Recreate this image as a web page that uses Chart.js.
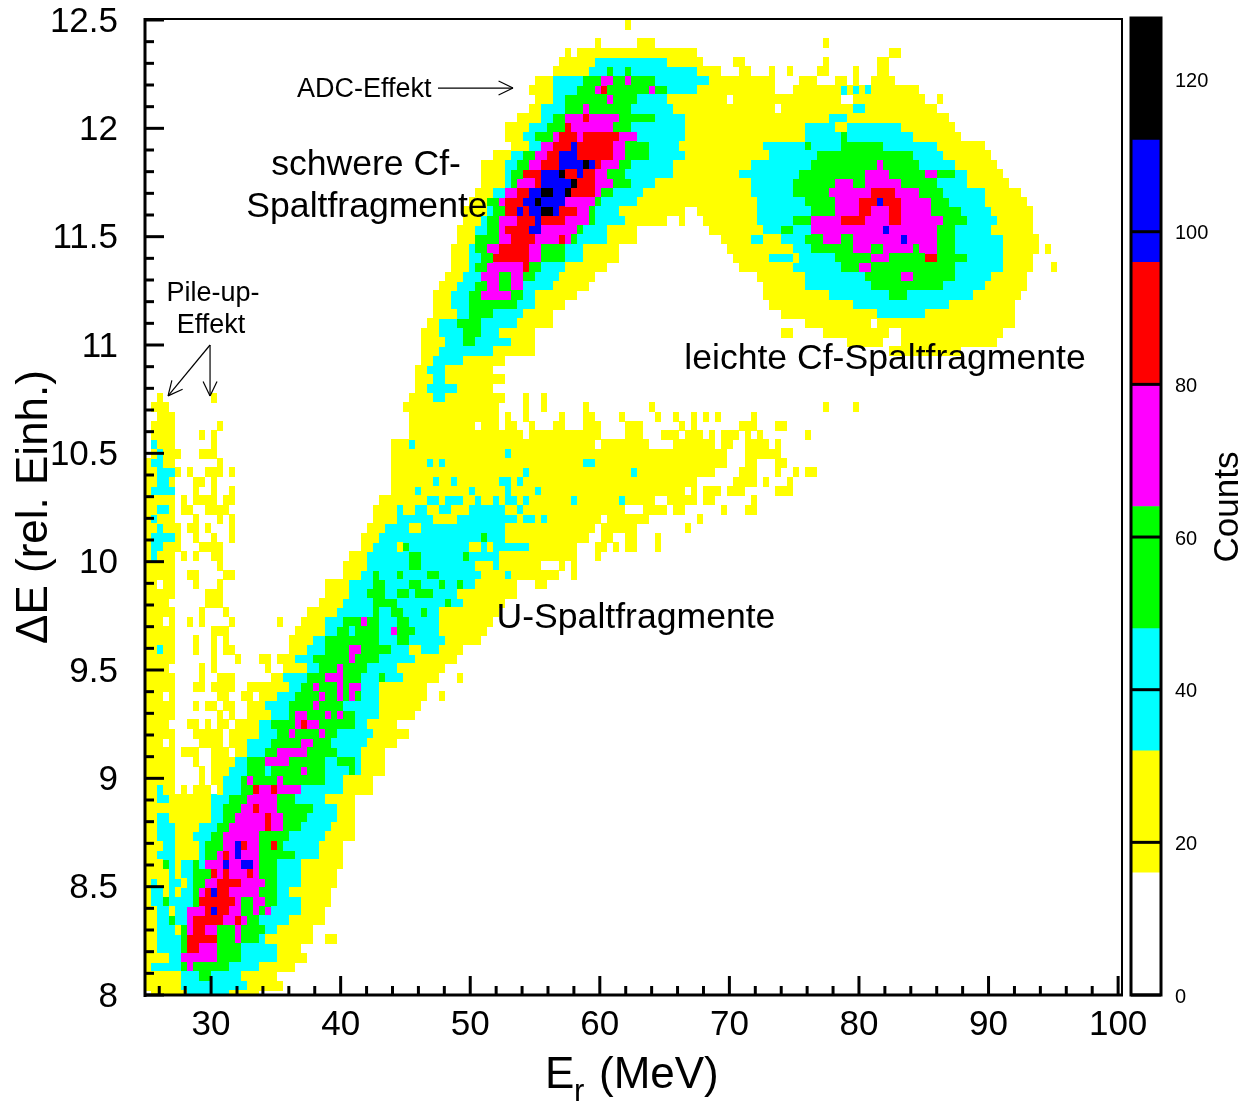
<!DOCTYPE html>
<html><head><meta charset="utf-8">
<style>html,body{margin:0;padding:0;background:#fff;overflow:hidden}
#wrap{position:relative;width:1255px;height:1104px}
canvas{position:absolute;top:0}#main{left:0}#bar{left:1125px}</style>
<script src="https://cdn.jsdelivr.net/npm/chart.js@4"></script>
</head><body><div id="wrap"><canvas id="main" width="1255" height="1104"></canvas><canvas id="bar" width="130" height="1104"></canvas></div>
<script>
// Runs per row, top to bottom: "start level end level end ..." in energy-bin numbers.
const upperRows=["80y81","","75y76_82y85_113y114","70y71_72y92_124y126","69y75c87y93_98y100_113y114_122y124",
"68y74c77g78c80g81c92y96_99y101_104y105_107y108_112y114_118y119_122y124",
"65y68c73g76m78g80m81g85c94y105_109y112_115y117_118y119_121y125",
"64y68c72g75m76r77g84m85g87c92y105_108y116c117y118c119y120c121y129",
"65y68c70g77m78g82c87y97_98y116_118y130_132y133",
"64y66c70g73m74g81c88y105_106y118c120y132",
"62y66c68g70m73r74m79g85c90y114c117y134",
"60y64c67g70r71m78g81c90y110c115y117c126y135",
"60y63c65g68m69r72m73r79m82c90y110c116g117c128y136",
"61y64c66m68r71b72r78m80g84c89y103c110g111c116g123c132y140",
"58y61c63g65m67r69b72r78m80g84c90y104c112g128c133y141",
"56y60c62g64m66r69b73k74b75r76m79g81c88y101c111g122m123g129c135y142",
"56y60c61g63r66b69k70r72b73r75m77g80c88y99c109g120m124g130m132g135c137y143",
"56y60c61g62m65r66b71k72r75m78g81c85y101c108g115m118g120m126g132c137y144",
"55y58c60m62r64b66k68b70k71r75m76g78c83y101c108g114m121r125m129g133c140y146",
"54y57g59m60r63b65k66b70m75g76c82y102c110g115m119r122b123r126m131g134c140y147",
"53y57c58g60r62b63r64b66k68b69r72m74g75c79y90_92y102c111g115m119r121m124r126m131g136c141y148",
"53y56c57g59m62r65b66r70m74g75c80y87_89y90_93y102c108g111m116r120m124r126m133g137c142y148",
"52y55c57g59m60r64b66m72g73c77y82_94y103c106g108c111m123b124m132g135c141y148",
"52y55g59m61r65m69r70m71g72c77y82_96y101c103y106c110g113m116g118m126b127m132g135c143y149",
"51y54c55g57m59r64m66g70c73y79_97y108c111g118m121g123m128g129m132g135c143y149_150y151",
"51y54c56g58r64m66g70c73y79_98y104c108y109c115g121m124g130r132g137c143y148",
"51y54c55g57m63r64g66c70y77_99y108c116g119m121g135c143y148_151y152",
"50y53c56m59g61m63g65c69y75_102y110c120g126m128g135c141y147",
"49y52c55g57m59g61m63c68y74_103y110c121g133c140y147",
"48y51c54g56m61g63c65y72_103y114c124g127c138y146",
"48y51c54g62c65y70_104y118c134y145",
"48y52c54g58c63y68_106y122c130y145",
"47y49c52g56c62y68_110y121_122y145",
"46y49c53g56c59y65_106y108_113y124_126y143",
"46y50c53g55c61y65_117y123_126y142",
"46y49c58y65_124y136",
"46y48c53y60","45y47c50y58","45y48c50y60"];
const middleRows=["45y47c52y58",
"2y3_11y12_44y48c50y60_63y64_66y67",
"1y4_43y59_63y64_66y67_73y74_84y85_113y114_118y119",
"2y5_44y59_60y61_63y64_69y70_73y75_79y80_85y86_88y89_91y92_93y94_95y96_101y102",
"1y5_12y13_44y55_56y59_60y62_64y65_68y70_73y76_80y83_89y90_91y92_99y102_105y107",
"1y5_9y10_11y12_44y63_64y76_80y83_86y89_90y93_94y95_96y99_100y101_102y103_110y111",
"1c2y5_11y12_41y44c45y75_76y84_88y95_96y98_100y104_105y106",
"1y2c3y6_9y12_41y60c61y97_100y106",
"0y1c3y5_12y13_41y47c48y49c50y73c75y97_100y102_105y107",
"0y2c5y6_7y8_10y13_14y15_41y63c64y81c82y95_99y102_105y106_108y109_110y112",
"0y2c4y5_8y10_11y12_41y48c49y51c52y59c61y62c63y92_98y102_103y104_107y108",
"0y1c5_8y9_11y12_14y15_41y45c46y54c55y60c61y65c66y90_91y92_93y96_97y100_105y108",
"0y5_6y7_8y12_13y15_39y47c49y50c53y55c56y58c59y60c62y63c64y71c72y79c80y85_87y92_93y95_101y102",
"0y2c4y5_6y8_10y14_38y42c43y45c47y49c51y54c60y62c63y80_83y87_88y90_96y97_100y102",
"0y1c2y5_8y9_12y13_14y15_38y42c48y52c62y63c65y66c67y76_77y84_92y93",
"0y2c3y6_7y9_10y11_14y15_37y40c44y46c60y75_76y82_90y91",
"0y1c5y6_8y9_11y12_14y15_36y39c56g57c60y74_76y78_80y82_85y86",
"0y1c3y6_9y13_36y38c42y43g44c54y56c57y58c64y72_75y77_78y79_80y82_85y86",
"0y1c2y5_6y7_8y9_11y13_34y37c44g46c53g54c59y72_75y76",
"0y5_12y13_33y37c44g46c55y58c59y66_69y70_71y72",
"0y5_7y9_13y15_33y36c38g39c42g43c47g49c56y60c61y69_71y72",
"0y2_3y5_8y9_12y13_30y34c38g40c44g46c49g50c52g53c55y62_65y67",
"0y5_10y13_30y34c37g40c42g44c45g48c52y62",
"0y4_10y13_29y33c38g42c50g51c53y60",
"0y5_9y10_13y14_27y32c38g39c41g43c46g47c49y59",
"0y3_4y5_7y8_9y10_14y15_22y23_26y30c33g36m37g39c42g44c49y58",
"0y5_11y14_25y30c32g34c35g39c41m42g45c49y57",
"0y5_8y9_11y12_13y14_24y28c30g39c42g44c50y56"];
const lowerRows=["0y2c3y5_8y9_11y12_13y15_24y27c30g34m36g41c44y46c49y53",
"0y5_11y12_15y16_19y21_22y25c28g34m35g39c45y52",
"0y4_9y10_11y12_20y21_23y27c29g32m33g37c42y50",
"0y5_9y10_12y15_21y23c27g30m33g36c39g40c43y49_52y53",
"0y5_8y10_11y15_17y24c26g28m29g32m33g34m36c39y47",
"0y3_4y5_12y14_16y18_19y22c25g29m30g32m33g34m35g36c39y47_49y50",
"0y5_8y9_10y12_13y15_17y20c24g28m29g33c39y46",
"0y5_12y13_14y15_17y21c24g25m27g30m31g32m33g35c39y45",
"0y4_7y9_10y11_12y14_15y19c21g25m26r27m29g35c37y42",
"0y5_8y13_14y19c22g24m25g29m30g32c38y44",
"0y3_4y5_9y13_14y17c21g26m28g31c37y42",
"0y5_6y9_11y14_15y17c20g22m27g32c36y40",
"0y5_8y9_11y15c17g20m24g30c32g35c36y40",
"0y5_9y10_11y14c17g20c21g26m27g30c34g35c36y40",
"0y5_9y10_11y13c16g17m18g22m23g30c33y38",
"0y2c3y5_6y7_8y11_12y13c16g18r19m21r22m26c33y38",
"0y2c4y11c14g17m22g25c30y35",
"0y11c13g16m18r19m22g28c32y35",
"0y2c4y11c13g15m20r21m23g27c32y35",
"0y2c5y9c12g14m20r21m23g26c31y35",
"0y2c5y8c11g13m19g24c30y35",
"0y3c5y9c10g13m15b16r17m19g21r22g23c29y33",
"0y2c5y9c10g12m13r14m15b16m19g25c29y33",
"0y3g4c5y6c8g9c10m13b14m16b18m19g22c26y33",
"0y4c5y6c8g11r12m13r14m17r18m19g22c26y32",
"0y1c2y4c6y7c8g10m12r16m20g22c26y32",
"0y1c3y4c5y6c8g9m10r11b12r14m19g22c24y31",
"0y1c3g4c8g9r15m16g18m20g22c26y31",
"0y2c4y5c7m10r11b12r14m16g18m19g20m21c26y30",
"0y2c4g5c7m8r13m15r16m17g19c24y30",
"0y2c5y6g7m8r10m12g15m16g20c22y28",
"0y2c6g7r12g15m16g19c20y28_30y32",
"0y2c6g7r9m12g16c22y26",
"0y4c6m12g16c22y27",
"0y1c6g7m8g14c19y25",
"0y6c9g11c16y22",
"0y6c17y23",
"1y7c14y19"];
const levelKeys=["y","c","g","m","r","b","k"];
const levelCounts=[24,40,56,72,88,104,120];
const levelColors=["#ffff00","#00ffff","#00ff00","#ff00ff","#ff0000","#0000ff","#000000"];
const colorBands=[16,16,16,16,16,16,16,16];
const colorBandColors=["#ffffff","#ffff00","#00ffff","#00ff00","#ff00ff","#ff0000","#0000ff","#000000"];
const xTickValues=[30,40,50,60,70,80,90,100];
const yTickValues=[8,8.5,9,9.5,10,10.5,11,11.5,12,12.5];
const countTickValues=[0,20,40,60,80,100,120];
const xRange=[24.9,100.3], yRange=[8,12.5], countRange=[0,128];
const energyBin=0.4631, deltaBin=0.04306;
const texts=[
 {t:"ADC-Effekt",x:36.63,y:12.177,size:27,align:"left"},
 {t:"schwere Cf-",x:41.96,y:11.831,size:35.6,align:"center"},
 {t:"Spaltfragmente",x:42.03,y:11.637,size:35.6,align:"center"},
 {t:"leichte Cf-Spaltfragmente",x:82.01,y:10.936,size:35.6,align:"center"},
 {t:"U-Spaltfragmente",x:62.79,y:9.74,size:35.6,align:"center"},
 {t:"Pile-up-",x:30.15,y:11.236,size:27,align:"center"},
 {t:"Effekt",x:30.0,y:11.088,size:27,align:"center"}];
const arrows=[[47.51,12.186,53.30,12.186],[29.92,11.0,26.68,10.765],[29.92,11.0,29.92,10.765]];

const FONT='"Liberation Sans", Arial, sans-serif';
Chart.defaults.font.family=FONT;
Chart.defaults.color="#000";
const allRows=[...upperRows,...middleRows,...lowerRows];
const cells=levelKeys.map(()=>[]);
allRows.forEach((row,r)=>{
  const parts=[...row.matchAll(/(\d+)([a-z_]?)/g)];
  parts.forEach((p,i)=>{
    const lv=levelKeys.indexOf(p[2]);
    if(lv<0||i+1>=parts.length)return;
    for(let k=+p[1];k<+parts[i+1][1];k++)
      cells[lv].push({x:xRange[0]+(k+.5)*energyBin,y:yRange[1]-(r+.5)*deltaBin,count:levelCounts[lv]});
  });
});
function cellImage(color){
  const c=document.createElement("canvas");c.width=6;c.height=10;
  const g=c.getContext("2d");g.fillStyle=color;g.fillRect(0,0,6,10);return c;
}
function zeroPad(s){s.paddingTop=0;s.paddingBottom=0;s.paddingLeft=0;s.paddingRight=0;}
function vtext(ctx,t,x,y,size){ctx.save();ctx.translate(x,y);ctx.rotate(-Math.PI/2);ctx.font=size+"px "+FONT;ctx.textAlign="center";ctx.textBaseline="middle";ctx.fillText(t,0,0);ctx.restore();}
const overlay={id:"overlay",afterDatasetsDraw(chart){
  const ctx=chart.ctx,a=chart.chartArea,X=chart.scales.x,Y=chart.scales.y;
  ctx.save();ctx.strokeStyle="#000";ctx.fillStyle="#000";ctx.lineCap="butt";
  const line=(x1,y1,x2,y2,w)=>{ctx.lineWidth=w;ctx.beginPath();ctx.moveTo(x1,y1);ctx.lineTo(x2,y2);ctx.stroke();};
  for(let v=26;v<=100;v+=2){const p=X.getPixelForValue(v);line(p,a.bottom,p,a.bottom-(v%10===0?19:9),3);}
  for(let i=0;i<=45;i++){const v=8+i/10,p=Y.getPixelForValue(v);line(a.left,p,a.left+(i%5===0?19:9),p,3);}
  line(a.left,a.top-1,a.right,a.top-1,2);line(a.right,a.top-2,a.right,a.bottom,2);
  line(a.left,a.top-2,a.left,a.bottom+2,3);line(a.left-1,a.bottom,a.right+1,a.bottom,3);
  texts.forEach(o=>{ctx.font=o.size+"px "+FONT;ctx.textAlign=o.align;ctx.textBaseline="middle";ctx.fillText(o.t,X.getPixelForValue(o.x),Y.getPixelForValue(o.y));});
  arrows.forEach(s=>{
    const x1=X.getPixelForValue(s[0]),y1=Y.getPixelForValue(s[1]),x2=X.getPixelForValue(s[2]),y2=Y.getPixelForValue(s[3]);
    const ang=Math.atan2(y2-y1,x2-x1);
    line(x1,y1,x2,y2,1.2);
    [-.45,.45].forEach(d=>line(x2,y2,x2-16*Math.cos(ang+d),y2-16*Math.sin(ang+d),1.2));
  });
  vtext(ctx,"\u0394E (rel. Einh.)",35,507,44);
  ctx.textAlign="left";ctx.textBaseline="alphabetic";
  ctx.font="44px "+FONT;ctx.fillText("E",545,1088);
  ctx.font="31px "+FONT;ctx.fillText("r",574,1101);
  ctx.font="44px "+FONT;ctx.fillText("(MeV)",599,1088);
  ctx.restore();
}};
new Chart(document.getElementById("main"),{
  type:"scatter",
  data:{datasets:levelKeys.map((k,i)=>({label:k,data:cells[i],pointStyle:cellImage(levelColors[i]),pointRadius:3,pointHoverRadius:3,showLine:false}))},
  plugins:[overlay],
  options:{responsive:false,animation:false,events:[],parsing:false,normalized:true,
    layout:{padding:{top:20,right:133,left:0,bottom:0}},
    plugins:{legend:{display:false},tooltip:{enabled:false},title:{display:false}},
    scales:{
      x:{type:"linear",min:xRange[0],max:xRange[1],grid:{display:false},border:{display:false},
        afterBuildTicks(s){s.ticks=xTickValues.map(v=>({value:v}));},
        afterFit(s){s.height=109;zeroPad(s);},
        ticks:{font:{size:35},padding:1,maxRotation:0,autoSkip:false,callback:v=>String(v)}},
      y:{type:"linear",min:yRange[0],max:yRange[1],grid:{display:false},border:{display:false},
        afterBuildTicks(s){s.ticks=yTickValues.map(v=>({value:v}));},
        afterFit(s){s.width=145;zeroPad(s);},
        ticks:{font:{size:35},padding:19,labelOffset:2,autoSkip:false,callback:v=>String(v)}}
    }}
});
const barOverlay={id:"barOverlay",afterDatasetsDraw(chart){
  const ctx=chart.ctx,a=chart.chartArea,Y=chart.scales.y;
  ctx.save();ctx.strokeStyle="#000";ctx.fillStyle="#000";ctx.lineWidth=3;
  countTickValues.forEach(v=>{const p=Y.getPixelForValue(v);ctx.beginPath();ctx.moveTo(a.left,p);ctx.lineTo(a.right,p);ctx.stroke();});
  ctx.strokeRect(a.left,a.top,a.right-a.left,a.bottom-a.top);
  vtext(ctx,"Counts",103,507,35);
  ctx.restore();
}};
new Chart(document.getElementById("bar"),{
  type:"bar",
  data:{labels:["Counts"],datasets:colorBands.map((b,i)=>({data:[b],backgroundColor:colorBandColors[i],barPercentage:1,categoryPercentage:1,borderWidth:0}))},
  plugins:[barOverlay],
  options:{responsive:false,animation:false,events:[],
    layout:{padding:{top:18,bottom:109,left:6,right:0}},
    plugins:{legend:{display:false},tooltip:{enabled:false}},
    scales:{
      x:{display:false,stacked:true},
      y:{stacked:true,position:"right",min:countRange[0],max:countRange[1],grid:{display:false},border:{display:false},
        afterBuildTicks(s){s.ticks=countTickValues.map(v=>({value:v}));},
        afterFit(s){s.width=94;zeroPad(s);},
        ticks:{font:{size:20},padding:6,labelOffset:2,autoSkip:false,callback:v=>String(v)}}
    }}
});
</script></body></html>
